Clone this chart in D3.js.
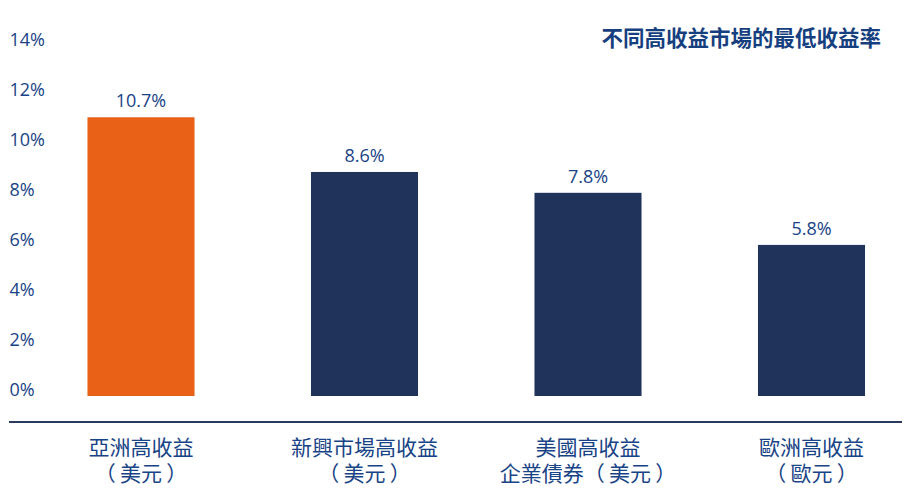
<!DOCTYPE html>
<html><head><meta charset="utf-8">
<script src="https://cdn.jsdelivr.net/npm/d3@7"></script>
<style>
html,body{margin:0;padding:0;background:#fff;}
svg{display:block;}
</style></head>
<body>
<svg id="chart" width="912" height="490"></svg>
<script>
const categories = ["亞洲高收益（美元）", "新興市場高收益（美元）", "美國高收益企業債券（美元）", "歐洲高收益（歐元）"];
const labelLine1 = ["亞洲高收益", "新興市場高收益", "美國高收益", "歐洲高收益"];
const labelLine2 = ["（\u2009美元\u2009）", "（\u2009美元\u2009）", "企業債券（\u2009美元\u2009）", "（\u2009歐元\u2009）"];
const values = [10.7, 8.6, 7.8, 5.8];
const highlight = [true, false, false, false];
const yTicks = [0, 2, 4, 6, 8, 10, 12, 14];
const title = "不同高收益市場的最低收益率";

const svg = d3.select("#chart");
const textColor = "#184386";
const cjk = "'Noto Sans CJK TC','Noto Sans CJK SC',sans-serif";
const latin = "'Open Sans',sans-serif";

const x = d3.scaleBand().domain(categories).range([29.25, 923.25]).paddingInner(0.521).paddingOuter(0.2605);
const y = d3.scaleLinear().domain([0, 14]).range([396, 396 - 14 * 26.05]);
const yLab = d3.scaleLinear().domain([0, 14]).range([389.3, 39.3]);

// y tick labels
const yAxis = d3.axisRight(yLab).tickValues(yTicks).tickSize(0).tickPadding(0).tickFormat(d => d + "%");
const gy = svg.append("g").attr("transform", "translate(9.5,0)").call(yAxis);
gy.select(".domain").remove();
gy.selectAll("text").attr("fill", textColor).attr("font-family", latin).attr("font-size", 18).attr("dy", "0.357em").attr("text-anchor", "start");

// bars
svg.append("g").selectAll("rect").data(values).join("rect")
  .attr("x", (d, i) => x(categories[i]))
  .attr("width", x.bandwidth())
  .attr("y", d => y(d))
  .attr("height", d => y(0) - y(d))
  .attr("fill", (d, i) => highlight[i] ? "#e86116" : "#20335a");

// value labels
svg.append("g").selectAll("text").data(values).join("text")
  .attr("x", (d, i) => x(categories[i]) + x.bandwidth() / 2)
  .attr("y", d => y(d) - 10)
  .attr("text-anchor", "middle")
  .attr("fill", textColor).attr("font-family", latin).attr("font-size", 18)
  .text(d => d.toFixed(1) + "%");

// baseline axis
svg.append("line").attr("x1", 9).attr("x2", 902).attr("y1", 422).attr("y2", 422)
  .attr("stroke", "#2a3a5e").attr("stroke-width", 2);

// category labels
const gl = svg.append("g");
gl.selectAll("text.l1").data(labelLine1).join("text").attr("class", "l1")
  .attr("x", (d, i) => x(categories[i]) + x.bandwidth() / 2)
  .attr("y", 454.5).attr("text-anchor", "middle")
  .attr("fill", textColor).attr("font-family", cjk).attr("font-size", 21).text(d => d);
gl.selectAll("text.l2").data(labelLine2).join("text").attr("class", "l2")
  .attr("x", (d, i) => x(categories[i]) + x.bandwidth() / 2)
  .attr("y", 480.5).attr("text-anchor", "middle")
  .attr("fill", textColor).attr("font-family", cjk).attr("font-size", 21).text(d => d);

// title
svg.append("text").attr("x", 881).attr("y", 46).attr("text-anchor", "end")
  .attr("fill", "#163f80").attr("font-family", cjk).attr("font-weight", "bold").attr("font-size", 21.5)
  .text(title);
</script>
</body></html>
